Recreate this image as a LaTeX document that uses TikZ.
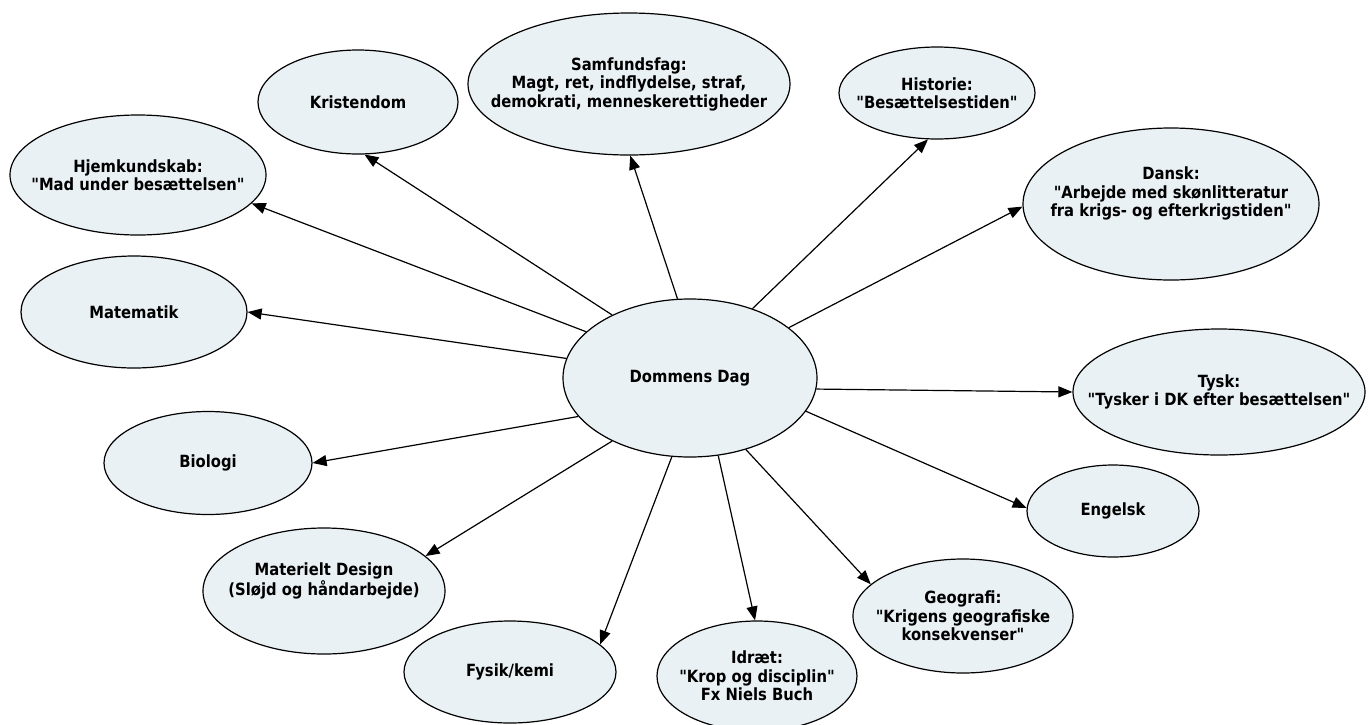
\documentclass[tikz,border=0pt]{standalone}
\usepackage{fontspec}
\setmainfont{DejaVu Sans}[FakeStretch=0.88,Ligatures=TeXOff]
\usetikzlibrary{arrows.meta,shapes.geometric}
\definecolor{topicfill}{RGB}{234,241,244}

\begin{document}
\begin{tikzpicture}[x=1pt,y=-1pt,>={Triangle[length=14pt,width=11pt]},
  every node/.style={font=\fontsize{16.8}{18.5}\selectfont\bfseries},
  topic/.style={ellipse,draw,line width=1.2pt,fill=topicfill,align=center,inner sep=-40pt},
  link/.style={->,line width=1.2pt}]
\useasboundingbox (0,0) rectangle (1369,724);
% centre
\node[topic,minimum width=254pt,minimum height=158pt] (dom) at (690,378) {Dommens Dag};
% subjects, clockwise from top left
\node[topic,minimum width=256pt,minimum height=120pt] (hjem) at (138,175) {Hjemkundskab:\\"Mad under besættelsen"};
\node[topic,minimum width=200pt,minimum height=104pt] (kristendom) at (358,102) {Kristendom};
\node[topic,minimum width=322pt,minimum height=142pt] (samfund) at (629,84) {Samfundsfag:\\Magt, ret, indflydelse, straf,\\demokrati, menneskerettigheder};
\node[topic,minimum width=196pt,minimum height=92pt] (historie) at (937,93) {Historie:\\"Besættelsestiden"};
\node[topic,minimum width=296pt,minimum height=152pt,text depth=24pt] (dansk) at (1171,204) {Dansk:\\"Arbejde med skønlitteratur\\fra krigs- og efterkrigstiden"};
\node[topic,minimum width=292pt,minimum height=126pt] (tysk) at (1219,392) {Tysk:\\"Tysker i DK efter besættelsen"};
\node[topic,minimum width=172pt,minimum height=92pt] (engelsk) at (1113,511) {Engelsk};
\node[topic,minimum width=220pt,minimum height=114pt] (geografi) at (963,616) {Geografi:\\"Krigens geografiske\\konsekvenser"};
\node[topic,minimum width=200pt,minimum height=110pt] (idraet) at (757,676) {Idræt:\\"Krop og disciplin"\\Fx Niels Buch};
\node[topic,minimum width=212pt,minimum height=102pt] (fysik) at (510,672) {Fysik/kemi};
\node[topic,minimum width=242pt,minimum height=126pt,text depth=24pt] (design) at (324,591) {Materielt Design\\(Sløjd og håndarbejde)};
\node[topic,minimum width=208pt,minimum height=103pt] (bio) at (208,463) {Biologi};
\node[topic,minimum width=226pt,minimum height=112pt] (mat) at (134,312) {Matematik};
% arrows
\draw[link] (dom.156) -- (hjem.-14);
\draw[link] (dom.141) -- (kristendom.-83);
\draw[link] (dom.99) -- (samfund.-89);
\draw[link] (dom.48) -- (historie.-101);
\draw[link] (dom.27) -- (dansk.181);
\draw[link] (dom.355) -- (tysk.180);
\draw[link] (dom.344) -- (engelsk.178);
\draw[link] (dom.308) -- (geografi.161);
\draw[link] (dom.290) -- (idraet.92);
\draw[link] (dom.257) -- (fysik.17);
\draw[link] (dom.219) -- (design.19);
\draw[link] (dom.199) -- (bio.0);
\draw[link] (dom.171) -- (mat.0);
\end{tikzpicture}
\end{document}
